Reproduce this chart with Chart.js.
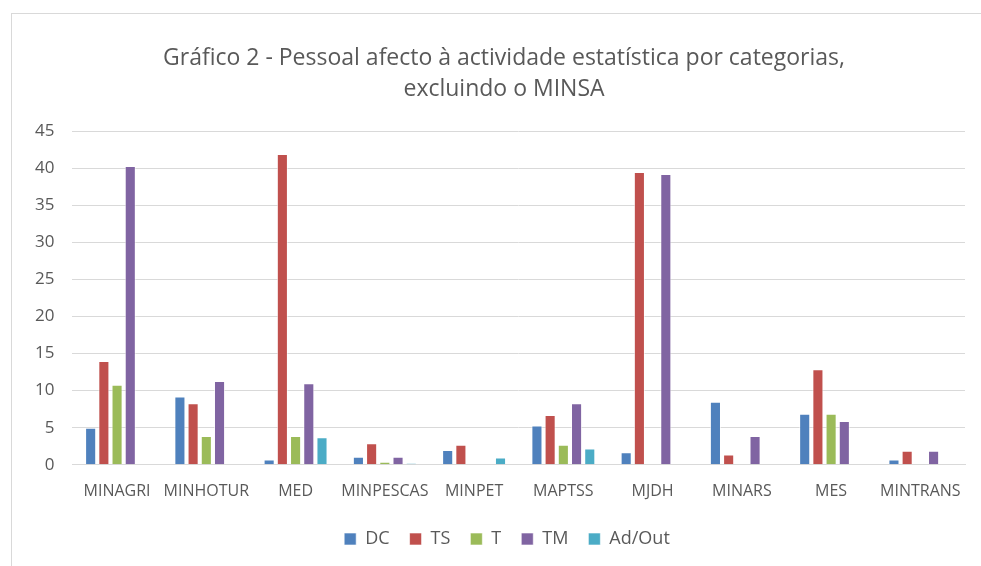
<!DOCTYPE html>
<html>
<head>
<meta charset="utf-8">
<script src="https://cdn.jsdelivr.net/npm/chart.js@4"></script>
<style>
  body { margin: 0; background: #fff; }
  #frame { position: absolute; left: 11px; top: 13px; width: 1000px; height: 600px; border: 1px solid #d9d9d9; }
  #wrap { position: absolute; left: 0; top: 0; width: 981px; height: 566px; }
</style>
</head>
<body>
<div id="frame"></div>
<div id="wrap"><canvas id="chart" width="981" height="566"></canvas></div>
<script>
// categories and series
const categories = ['MINAGRI', 'MINHOTUR', 'MED', 'MINPESCAS', 'MINPET', 'MAPTSS', 'MJDH', 'MINARS', 'MES', 'MINTRANS'];
const dc    = [5.0, 9.2, 0.7, 1.1, 2.0, 5.3, 1.7, 8.5, 6.9, 0.7];
const ts    = [14.0, 8.3, 41.9, 2.9, 2.7, 6.7, 39.5, 1.4, 12.9, 1.9];
const t     = [10.8, 3.9, 3.9, 0.4, null, 2.7, null, null, 6.9, null];
const tm    = [40.3, 11.3, 11.0, 1.1, null, 8.3, 39.2, 3.9, 5.9, 1.9];
const adOut = [null, null, 3.7, 0.2, 1.0, 2.2, null, null, null, null];

const textColor = '#595959';
Chart.defaults.font.family = '"Open Sans", sans-serif';
Chart.defaults.color = textColor;

function series(label, data, color) {
    return {
        label: label,
        data: data,
        backgroundColor: color,
        borderColor: 'rgba(255,255,255,0.6)',
        borderWidth: 1,
        barPercentage: 0.84,
        categoryPercentage: 0.74
    };
}

// the original frame is wider than the picture, so title and legend sit a bit right of the canvas centre
const shiftBlocks = {
    id: 'shiftBlocks',
    afterLayout(chart) {
        chart.titleBlock.left += 13;
        chart.titleBlock.right += 13;
        chart.legend.left += 16;
        chart.legend.right += 16;
    }
};

const ctx = document.getElementById('chart').getContext('2d');
const chart = new Chart(ctx, {
    type: 'bar',
    data: {
        labels: categories,
        datasets: [
            series('DC', dc, '#4f81bd'),
            series('TS', ts, '#c0504d'),
            series('T', t, '#9bbb59'),
            series('TM', tm, '#8064a2'),
            series('Ad/Out', adOut, '#4bacc6')
        ]
    },
    options: {
        responsive: false,
        animation: false,
        layout: { padding: { left: 17, right: 16, top: 43, bottom: 8 } },
        plugins: {
            title: {
                display: true,
                text: ['Gráfico 2 - Pessoal afecto à actividade estatística por categorias,', 'excluindo o MINSA'],
                color: textColor,
                font: { size: 23, weight: 'normal', lineHeight: 1.35 },
                padding: { top: 0, bottom: 26 }
            },
            legend: {
                position: 'bottom',
                labels: {
                    boxWidth: 12,
                    boxHeight: 12,
                    padding: 20,
                    font: { size: 18 },
                    color: textColor
                }
            },
            tooltip: { enabled: false }
        },
        scales: {
            x: {
                grid: { display: false },
                border: { color: '#d9d9d9', width: 1 },
                ticks: { font: { size: 16 }, color: textColor, maxRotation: 0, autoSkip: false, padding: 9 }
            },
            y: {
                min: 0,
                max: 45,
                ticks: { stepSize: 5, font: { size: 17 }, color: textColor, padding: 18 },
                grid: { color: '#d9d9d9', lineWidth: 1, drawTicks: false },
                border: { display: false }
            }
        }
    },
    plugins: [shiftBlocks]
});
</script>
</body>
</html>
